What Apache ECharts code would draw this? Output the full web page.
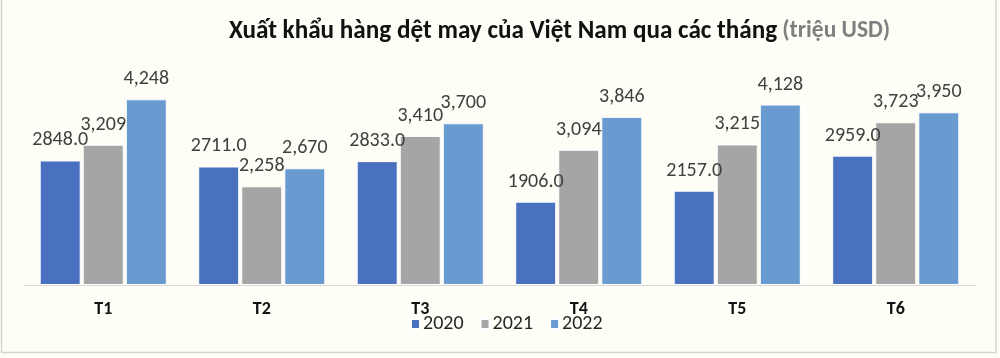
<!DOCTYPE html>
<html><head><meta charset="utf-8">
<script src="https://cdn.jsdelivr.net/npm/echarts@6/dist/echarts.min.js"></script>
<style>html,body{margin:0;padding:0;background:#fefef6;}#c{width:1000px;height:358px;}</style>
</head><body><div id="c"></div>
<script>
const categories = ['T1','T2','T3','T4','T5','T6'];
const seriesNames = ['2020','2021','2022'];
const v2020 = [2848, 2711, 2833, 1906, 2157, 2959];
const v2021 = [3209, 2258, 3410, 3094, 3215, 3723];
const v2022 = [4248, 2670, 3700, 3846, 4128, 3950];
const titleMain = 'Xuất khẩu hàng dệt may của Việt Nam qua các tháng';
const titleUnit = '(triệu USD)';

const FONT = 'Carlito, "Liberation Sans Narrow", "Noto Sans", sans-serif';
const colors = ['#4a70c0', '#a5a5a5', '#6a9bd0'];
const fmt2020 = p => p.value.toFixed(1);
const fmtComma = p => p.value.toLocaleString('en-US');
const values = [v2020, v2021, v2022];

const chart = echarts.init(document.getElementById('c'));
chart.setOption({
  backgroundColor: '#fefef6',
  animation: false,
  graphic: [{
    type: 'rect', silent: true,
    shape: { x: 1.5, y: -3, width: 994.5, height: 355.5 },
    style: { fill: 'none', stroke: '#d6d6d0', lineWidth: 1.5 }
  }],
  title: {
    text: '{a|' + titleMain + '} {b|' + titleUnit + '}',
    left: 224, top: 14,
    textStyle: {
      rich: {
        a: { fontFamily: FONT, fontWeight: 'bold', fontSize: 25.2, color: '#111111' },
        b: { fontFamily: FONT, fontWeight: 'bold', fontSize: 23.5, color: '#7f7f7f' }
      }
    }
  },
  legend: {
    data: seriesNames, left: 405, top: 309, itemWidth: 9, itemHeight: 10, itemGap: 16,
    icon: 'rect',
    textStyle: { fontFamily: FONT, fontSize: 20, color: '#262626', padding: [0,0,0,-2] }
  },
  grid: { left: 24, right: 25, top: 66.4, bottom: 73 },
  xAxis: {
    type: 'category', data: categories,
    axisLine: { show: true, lineStyle: { color: '#d9d9d9', width: 1 } },
    axisTick: { show: false },
    axisLabel: { fontFamily: FONT, fontWeight: 'bold', fontSize: 18, color: '#111111', margin: 15 }
  },
  yAxis: { type: 'value', min: 0, max: 5000, show: false, splitLine: { show: false } },
  series: seriesNames.map((n, i) => ({
    name: n, type: 'bar', data: values[i], barWidth: 41, barGap: '5%',
    itemStyle: { color: colors[i], borderColor: '#ffffff', borderWidth: 1 },
    label: {
      show: true, position: 'top', distance: 10,
      formatter: i === 0 ? fmt2020 : fmtComma,
      fontFamily: FONT, fontSize: 20, color: '#404040'
    }
  }))
});
</script>
</body></html>
